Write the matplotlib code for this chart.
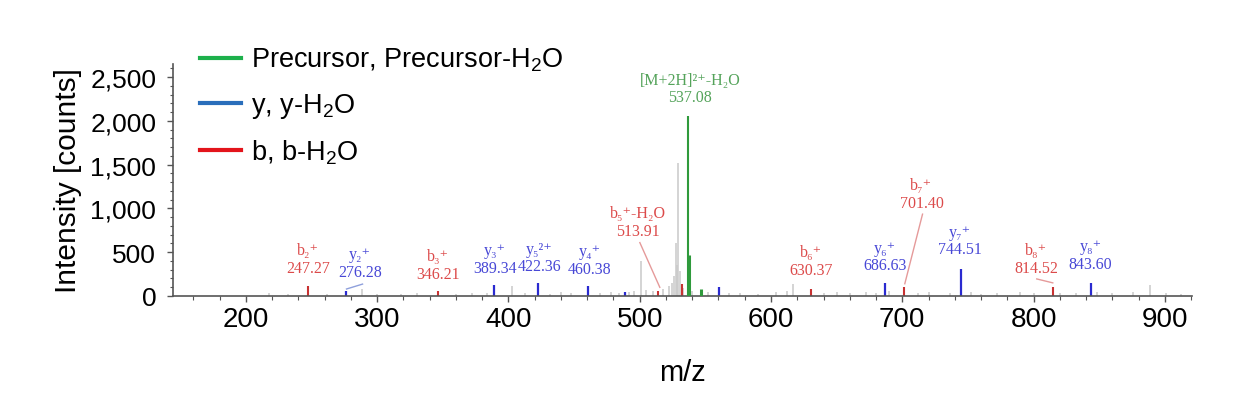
import matplotlib
matplotlib.use("Agg")
import matplotlib.pyplot as plt
from matplotlib.lines import Line2D
from matplotlib.ticker import FuncFormatter, MultipleLocator

plt.rcParams["font.family"] = ["Liberation Sans", "DejaVu Sans"]
plt.rcParams["mathtext.fontset"] = "custom"
plt.rcParams["mathtext.rm"] = "Liberation Sans"
plt.rcParams["mathtext.it"] = "Liberation Sans:italic"

# ── Annotated fragment peaks ─────────────────────────────────────────────────
B_MZ = [247.27, 346.21, 513.91, 532.0, 630.37, 701.40, 814.52]
B_INT = [110, 60, 60, 135, 85, 105, 105]

Y_MZ = [276.28, 389.34, 422.36, 460.38, 488.6, 560.5, 686.63, 744.51, 843.60]
Y_INT = [60, 128, 148, 117, 40, 106, 150, 311, 144]

PREC_MZ = [537.08, 537.58, 546.6]
PREC_INT = [2055, 465, 85]

# unassigned peaks (grey)
GREY_MZ = [218, 232, 262, 288.6, 300, 318, 330, 360, 372, 384, 402.8, 413, 432,
           440, 448, 470, 478, 484, 492, 496, 500.8, 505, 510, 518, 522, 524.5,
           526.2, 527.5, 528.4, 529.3, 530.6, 533, 540, 552, 568, 576, 590, 604,
           612, 616.6, 640, 650, 660, 672, 680, 690, 712, 720, 736, 752.5, 760,
           772, 790, 800, 820, 832, 848, 860, 875.6, 889, 901, 912]
GREY_INT = [30, 20, 25, 80, 20, 25, 30, 20, 35, 30, 117, 30, 25,
            45, 30, 35, 40, 30, 45, 60, 400, 70, 55, 80, 110, 150,
            230, 600, 350, 1519, 280, 90, 60, 40, 30, 35, 25, 40,
            55, 133, 30, 45, 35, 40, 30, 60, 35, 45, 30, 50, 25,
            35, 40, 30, 35, 30, 40, 30, 45, 121, 35, 25]

# ── Peak labels: (text, colour, x, y) ─────────────────────────────────────────
LABELS = [
    ("b₂⁺\n247.27", "r", 247.2, 420),
    ("y₂⁺\n276.28", "b", 286.8, 373),
    ("b₃⁺\n346.21", "r", 346.2, 354),
    ("y₃⁺\n389.34", "b", 389.6, 420),
    ("y₅²⁺\n422.36", "b", 423.4, 440),
    ("y₄⁺\n460.38", "b", 462.0, 407),
    ("b₅⁺-H₂O\n513.91", "r", 498.6, 848),
    ("[M+2H]²⁺-H₂O\n537.08", "g", 538.2, 2371),
    ("b₆⁺\n630.37", "r", 630.8, 400),
    ("y₆⁺\n686.63", "b", 686.7, 451),
    ("b₇⁺\n701.40", "r", 714.6, 1164),
    ("y₇⁺\n744.51", "b", 743.8, 634),
    ("b₈⁺\n814.52", "r", 801.7, 424),
    ("y₈⁺\n843.60", "b", 843.3, 466),
]

# leader lines: (x0, y0, x1, y1, colour)
LEADERS = [
    (276.7, 80, 288.9, 136, "b"),
    (515.3, 99, 500.1, 610, "r"),
    (701.9, 140, 715.4, 935, "r"),
    (814.6, 150, 802.4, 195, "r"),
]

TEXT_COL = {"r": "#dc4a4a", "b": "#4848d6", "g": "#54a35a"}
LEAD_COL = {"r": "#e59a9a", "b": "#8fa0dc", "g": "#8fc090"}

fig = plt.figure(figsize=(12.38, 4.02), dpi=100)
ax = fig.add_axes([0.1397, 0.2612, 0.823, 0.577])

ax.vlines(GREY_MZ, 0, GREY_INT, color="#c9c9c9", lw=1.1, zorder=1)
ax.vlines(B_MZ, 0, B_INT, color="#c83232", lw=1.5, zorder=2)
ax.vlines(Y_MZ, 0, Y_INT, color="#2a2ad0", lw=1.6, zorder=2)
ax.vlines(PREC_MZ[:1], 0, PREC_INT[:1], color="#2f9a3c", lw=1.5, zorder=3)
ax.vlines(PREC_MZ[1:], 0, PREC_INT[1:], color="#2f9a3c", lw=2.2, zorder=3)

for x0, y0, x1, y1, c in LEADERS:
    ax.plot([x0, x1], [y0, y1], color=LEAD_COL[c], lw=1.0, zorder=2)

for txt, c, x, y in LABELS:
    ax.text(x, y, txt, color=TEXT_COL[c], ha="center", va="center",
            fontsize=11.5, linespacing=1.15,
            family=["Liberation Serif", "DejaVu Serif"])

ax.set_xlim(144.5, 920.5)
ax.set_ylim(0, 2650)
ax.xaxis.set_major_locator(MultipleLocator(100))
ax.xaxis.set_minor_locator(MultipleLocator(20))
ax.yaxis.set_major_locator(MultipleLocator(500))
ax.yaxis.set_minor_locator(MultipleLocator(100))
ax.yaxis.set_major_formatter(FuncFormatter(lambda v, p: f"{v:,.0f}"))

for s in ("top", "right"):
    ax.spines[s].set_visible(False)
for s in ("left", "bottom"):
    ax.spines[s].set_color("#555555")
    ax.spines[s].set_linewidth(1.2)

ax.tick_params(axis="x", which="major", direction="out", length=4, width=1,
               color="#555555", labelsize=20, pad=3)
ax.tick_params(axis="x", which="minor", direction="out", length=3, width=0.8,
               color="#555555")
ax.tick_params(axis="y", which="major", direction="out", length=4, width=1,
               color="#555555", labelsize=19, pad=8)
ax.tick_params(axis="y", which="minor", direction="out", length=2.5, width=0.8,
               color="#555555")

ax.set_xlabel("m/z", fontsize=21, labelpad=19)
ax.set_ylabel("Intensity [counts]", fontsize=21.5, labelpad=6)

handles = [
    Line2D([], [], color="#1db04b", lw=3),
    Line2D([], [], color="#2a6ebb", lw=3),
    Line2D([], [], color="#e3141b", lw=3),
]
names = ["Precursor, Precursor-H$_2$O", "y, y-H$_2$O", "b, b-H$_2$O"]
fig.legend(handles, names, loc="upper left",
           bbox_to_anchor=(200 / 1238, 1 - 47 / 402), frameon=False,
           fontsize=19.5, handlelength=1.5, handletextpad=0.4,
           labelspacing=0.65, borderpad=0, borderaxespad=0)

fig.savefig("out.png", dpi=100)
